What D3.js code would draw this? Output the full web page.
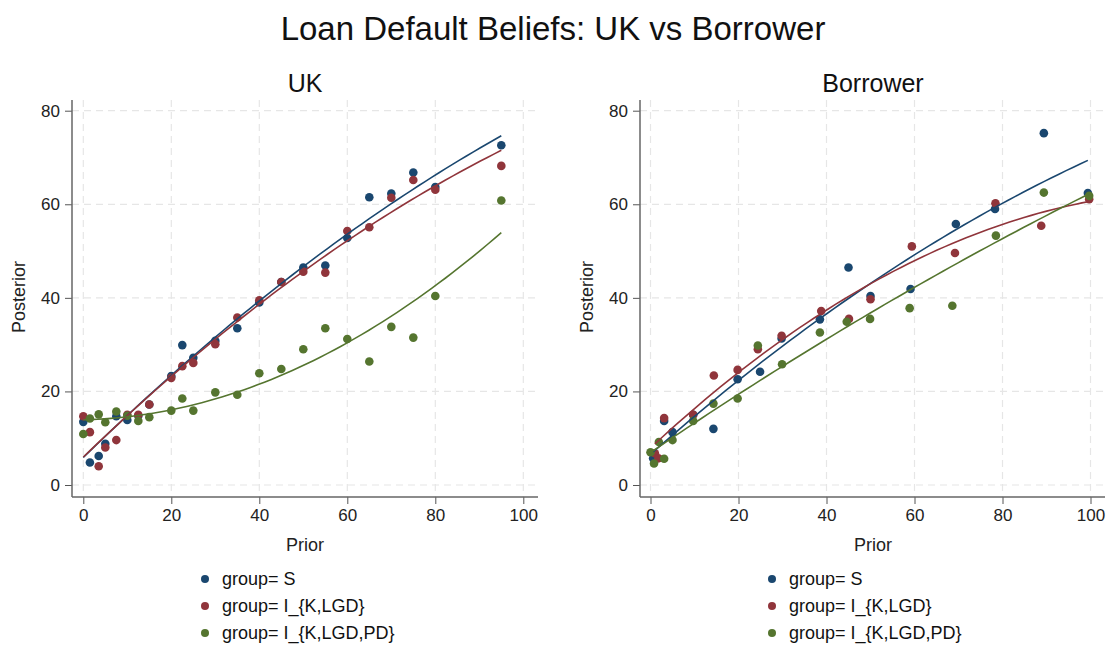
<!DOCTYPE html>
<html lang="en">
<head>
	<meta charset="utf-8">
	<title>Loan Default Beliefs</title>
	<script src="https://cdn.jsdelivr.net/npm/d3@7"></script>
	<style>
		body { margin: 0; background: #fff; }
		svg { display: block; }
		.tick text { font-family: "Liberation Sans Narrow", "Arial Narrow", "Liberation Sans", Arial, sans-serif; font-size: 17px; fill: #222; }
		.lab { font-family: "Liberation Sans Narrow", "Arial Narrow", "Liberation Sans", Arial, sans-serif; font-size: 18px; fill: #222; }
		.ttl { font-family: "Liberation Sans", Arial, sans-serif; fill: #111; }
		.leg { font-family: "Liberation Sans", Arial, sans-serif; font-size: 18px; fill: #111; }
	</style>
</head>
<body>
<script>
// ---- data ----
var groups = ["group= S", "group= I_{K,LGD}", "group= I_{K,LGD,PD}"];
var colors = ["#1a476f", "#90353b", "#55752f"];

// UK panel (all groups share the same priors)
var ukPrior = [0, 1.5, 3.5, 5, 7.5, 10, 12.5, 15, 20, 22.5, 25, 30, 35, 40, 45, 50, 55, 60, 65, 70, 75, 80, 95];
var ukS     = [13.5, 4.8, 6.2, 8.8, 14.7, 13.9, 14.8, 17.2, 23.3, 29.9, 27.2, 30.8, 33.5, 39.0, 43.4, 46.5, 46.9, 52.8, 61.5, 62.3, 66.8, 63.7, 72.6];
var ukKL    = [14.7, 11.3, 4.0, 8.0, 9.6, 15.0, 15.0, 17.2, 22.9, 25.4, 26.1, 30.1, 35.8, 39.5, 43.4, 45.6, 45.4, 54.3, 55.1, 61.4, 65.2, 63.1, 68.2];
var ukKLP   = [10.9, 14.2, 15.1, 13.4, 15.7, 14.8, 13.7, 14.5, 15.9, 18.5, 15.9, 19.8, 19.3, 23.9, 24.8, 29.0, 33.5, 31.2, 26.4, 33.8, 31.5, 40.4, 60.8];

// Borrower panel (priors differ a little by group)
var brPriorS   = [0.6, 3.1, 5, 9.7, 14.3, 19.8, 24.9, 29.8, 38.5, 45, 50, 59.1, 69.4, 78.3, 89.4, 99.4];
var brS        = [5.7, 13.7, 11.3, 15.0, 12.0, 22.6, 24.2, 31.3, 35.4, 46.5, 40.4, 41.9, 55.8, 59.0, 75.2, 62.4];
var brPriorKL  = [1, 1.8, 3.1, 9.7, 14.4, 19.8, 24.4, 29.8, 38.8, 45.1, 50, 59.4, 69.2, 78.4, 88.8, 99.7];
var brKL       = [6.8, 5.7, 14.3, 15.0, 23.4, 24.6, 29.0, 31.9, 37.2, 35.5, 39.7, 51.0, 49.6, 60.2, 55.4, 61.1];
var brPriorKLP = [0, 0.8, 1.9, 3.1, 5, 9.7, 14.3, 19.8, 24.4, 29.9, 38.5, 44.6, 49.9, 58.9, 68.6, 78.5, 89.4, 99.7];
var brKLP      = [7.0, 4.6, 9.2, 5.6, 9.6, 13.7, 17.4, 18.5, 29.8, 25.8, 32.6, 34.9, 35.5, 37.8, 38.3, 53.3, 62.5, 61.8];

var xTicks = [0, 20, 40, 60, 80, 100];
var yTicks = [0, 20, 40, 60, 80];

var W = 1110, H = 646;
var svg = d3.select("body").append("svg").attr("width", W).attr("height", H);

svg.append("text").attr("class", "ttl")
	.attr("x", 553).attr("y", 40)
	.attr("text-anchor", "middle").attr("font-size", "33px")
	.text("Loan Default Beliefs: UK vs Borrower");

// quadratic least squares fit (like Stata qfit)
function qfit(xs, ys) {
	var n = xs.length, s = [0,0,0,0,0], t = [0,0,0];
	for (var i = 0; i < n; i++) {
		var x = xs[i], p = 1;
		for (var k = 0; k < 5; k++) { s[k] += p; if (k < 3) t[k] += p * ys[i]; p *= x; }
	}
	var A = [[s[0], s[1], s[2], t[0]], [s[1], s[2], s[3], t[1]], [s[2], s[3], s[4], t[2]]];
	for (var c = 0; c < 3; c++) {
		for (var r = c + 1; r < 3; r++) {
			var f = A[r][c] / A[c][c];
			for (var j = c; j < 4; j++) A[r][j] -= f * A[c][j];
		}
	}
	var b = [0,0,0];
	for (var r2 = 2; r2 >= 0; r2--) {
		var v = A[r2][3];
		for (var j2 = r2 + 1; j2 < 3; j2++) v -= A[r2][j2] * b[j2];
		b[r2] = v / A[r2][r2];
	}
	var lo = d3.min(xs), hi = d3.max(xs), pts = [];
	for (var q = 0; q <= 60; q++) {
		var xx = lo + (hi - lo) * q / 60;
		pts.push([xx, b[0] + b[1] * xx + b[2] * xx * xx]);
	}
	return pts;
}

function panel(opt) {
	var g = svg.append("g");
	var x = d3.scaleLinear().domain([0, 100]).range([opt.x0, opt.x0 + 440]);
	var y = d3.scaleLinear().domain([0, 80]).range([485, 110.7]);
	var left = opt.axisX, right = opt.right, top = 100, bottom = 497;

	// grid
	g.selectAll(".hg").data(yTicks).enter().append("line")
		.attr("x1", left).attr("x2", right)
		.attr("y1", function(d){ return y(d); }).attr("y2", function(d){ return y(d); })
		.attr("stroke", "#e6e6e6").attr("stroke-width", 1.2).attr("stroke-dasharray", "7,5");
	g.selectAll(".vg").data(xTicks).enter().append("line")
		.attr("y1", top).attr("y2", bottom)
		.attr("x1", function(d){ return x(d); }).attr("x2", function(d){ return x(d); })
		.attr("stroke", "#e6e6e6").attr("stroke-width", 1.2).attr("stroke-dasharray", "7,5");

	// axes
	var ax = g.append("g").attr("transform", "translate(0," + bottom + ")")
		.call(d3.axisBottom(x).tickValues(xTicks).tickSize(7).tickPadding(5).tickSizeOuter(0));
	var ay = g.append("g").attr("transform", "translate(" + left + ",0)")
		.call(d3.axisLeft(y).tickValues(yTicks).tickSize(7).tickPadding(5).tickSizeOuter(0));
	[ax, ay].forEach(function(a){
		a.select(".domain").remove();
		a.selectAll(".tick line").attr("stroke", "#555");
	});
	g.append("line").attr("x1", left).attr("x2", right).attr("y1", bottom).attr("y2", bottom)
		.attr("stroke", "#666").attr("stroke-width", 1.5);
	g.append("line").attr("x1", left).attr("x2", left).attr("y1", top).attr("y2", bottom)
		.attr("stroke", "#666").attr("stroke-width", 1.5);

	g.append("text").attr("class", "ttl").attr("font-size", "25px")
		.attr("x", opt.titleX).attr("y", 92).attr("text-anchor", "middle").text(opt.title);
	g.append("text").attr("class", "lab").attr("x", opt.titleX).attr("y", 551)
		.attr("text-anchor", "middle").text("Prior");
	g.append("text").attr("class", "lab")
		.attr("transform", "translate(" + (left - 47) + ",297) rotate(-90)")
		.attr("text-anchor", "middle").text("Posterior");

	// points
	opt.series.forEach(function(s, i){
		g.selectAll(".p" + i).data(s.x).enter().append("circle")
			.attr("cx", function(d){ return x(d); })
			.attr("cy", function(d, j){ return y(s.y[j]); })
			.attr("r", 4.3).attr("fill", colors[i]);
	});
	// fitted lines
	var line = d3.line().x(function(d){ return x(d[0]); }).y(function(d){ return y(d[1]); });
	opt.series.forEach(function(s, i){
		g.append("path").datum(qfit(s.x, s.y)).attr("d", line)
			.attr("fill", "none").attr("stroke", colors[i]).attr("stroke-width", 1.6);
	});

	// legend
	groups.forEach(function(name, i){
		var ly = 579 + i * 27;
		g.append("circle").attr("cx", opt.legX).attr("cy", ly).attr("r", 4).attr("fill", colors[i]);
		g.append("text").attr("class", "leg").attr("x", opt.legX + 17).attr("y", ly + 6).text(name);
	});
}

panel({
	title: "UK", titleX: 305, x0: 83.3, axisX: 72, right: 538, legX: 205,
	series: [{x: ukPrior, y: ukS}, {x: ukPrior, y: ukKL}, {x: ukPrior, y: ukKLP}]
});
panel({
	title: "Borrower", titleX: 873, x0: 650.5, axisX: 640, right: 1105, legX: 772,
	series: [{x: brPriorS, y: brS}, {x: brPriorKL, y: brKL}, {x: brPriorKLP, y: brKLP}]
});
</script>
</body>
</html>
